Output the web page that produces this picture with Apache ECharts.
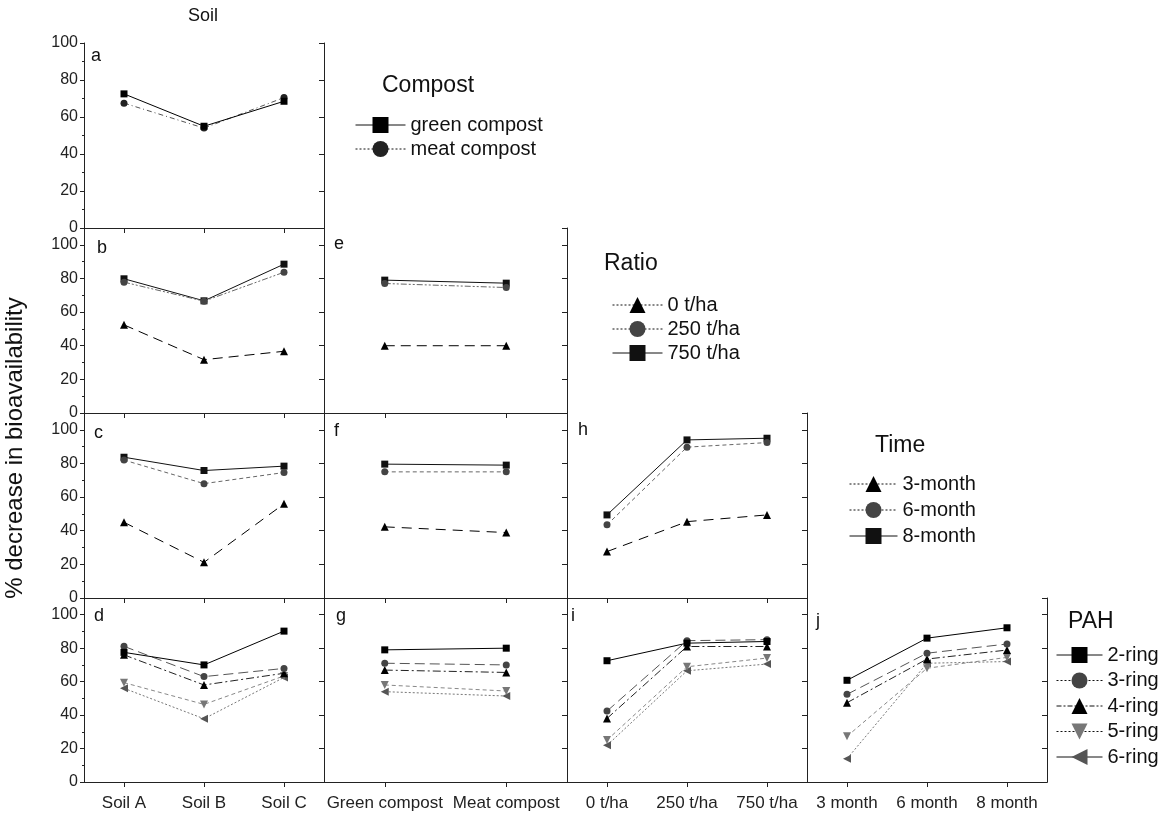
<!DOCTYPE html>
<html><head><meta charset="utf-8">
<script src="https://cdn.jsdelivr.net/npm/echarts@6/dist/echarts.min.js"></script>
<style>html,body{margin:0;padding:0;background:#fff}#c{width:1175px;height:816px}</style>
</head><body><div id="c"></div>
<script>
// ---------- categories ----------
const soils = ['Soil A', 'Soil B', 'Soil C'];
const composts = ['Green compost', 'Meat compost'];
const ratios = ['0 t/ha', '250 t/ha', '750 t/ha'];
const times = ['3 month', '6 month', '8 month'];

// ---------- legend names ----------
const compostNames = ['green compost', 'meat compost'];
const ratioNames = ['0 t/ha', '250 t/ha', '750 t/ha'];
const timeNames = ['3-month', '6-month', '8-month'];
const pahNames = ['2-ring', '3-ring', '4-ring', '5-ring', '6-ring'];

// ---------- values (% decrease in bioavailability) ----------
// a: soil x compost
const a_green = [72.5, 55.0, 68.5];
const a_meat = [67.5, 54.0, 70.5];
// b: soil x ratio
const b_0 = [52.4, 31.7, 36.7];
const b_250 = [77.8, 66.5, 83.7];
const b_750 = [79.8, 66.7, 88.5];
// e: compost x ratio
const e_0 = [40.0, 40.0];
const e_250 = [77.0, 74.6];
const e_750 = [79.0, 77.2];
// c: soil x time
const c_3 = [45.0, 21.2, 56.0];
const c_6 = [82.0, 68.0, 74.6];
const c_8 = [83.7, 75.8, 78.4];
// f: compost x time
const f_3 = [42.3, 38.9];
const f_6 = [75.0, 75.0];
const f_8 = [79.6, 79.0];
// h: ratio x time
const h_3 = [27.6, 45.4, 49.4];
const h_6 = [43.5, 89.7, 92.4];
const h_8 = [49.4, 94.0, 95.0];
// d: soil x PAH
const d_2 = [77.5, 70.0, 90.2];
const d_3 = [81.1, 63.0, 67.9];
const d_4 = [76.0, 58.0, 65.0];
const d_5 = [59.4, 46.4, 63.4];
const d_6 = [56.0, 37.8, 62.5];
// g: compost x PAH
const g_2 = [79.0, 80.0];
const g_3 = [71.0, 70.0];
const g_4 = [66.9, 65.5];
const g_5 = [58.0, 54.4];
const g_6 = [54.0, 51.4];
// i: ratio x PAH
const i_2 = [72.5, 83.0, 84.0];
const i_3 = [42.4, 84.5, 85.1];
const i_4 = [38.0, 81.0, 81.0];
const i_5 = [25.1, 68.9, 74.1];
const i_6 = [21.9, 66.5, 70.5];
// j: time x PAH
const j_2 = [60.8, 86.0, 92.2];
const j_3 = [52.4, 77.0, 82.5];
const j_4 = [47.4, 73.5, 78.9];
const j_5 = [27.3, 68.0, 74.5];
const j_6 = [13.9, 71.0, 72.0];

// y ticks
const yTickStep = 20;

// ---------- layout & styles ----------
const FONT = "'Liberation Sans', Arial, sans-serif";
const colLeft = [84, 324, 567, 807];
const colWidth = [240, 243, 240, 240];
const rowTop = [43, 228, 413, 598];
const rowHeight = [185, 185, 185, 184];
const rowMax = [100, 110, 110, 110];
const colCats = [soils, composts, ratios, times];

const SQ = 'rect', CI = 'circle', TR = 'triangle';
const DN = 'path://M0,0 L10,0 L5,9 Z';
const LT = 'path://M0,5 L9,0 L9,10 Z';

const rowStyles = [
  [ {sym: SQ, color: '#000', type: 'solid', size: 7, leg: 'solid'},
    {sym: CI, color: '#222', line: '#555', type: [5, 3, 1, 3], size: 7, leg: [2, 2]} ],
  [ {sym: TR, color: '#000', type: [10, 6], size: 8, leg: [2, 2]},
    {sym: CI, color: '#444', line: '#666', type: [6, 2, 2, 2, 2, 2], size: 7, leg: [2, 2]},
    {sym: SQ, color: '#111', type: 'solid', size: 7, leg: 'solid'} ],
  [ {sym: TR, color: '#000', type: [10, 7], size: 8, leg: [2, 2]},
    {sym: CI, color: '#444', line: '#666', type: [4, 3], size: 7, leg: [2, 2]},
    {sym: SQ, color: '#111', type: 'solid', size: 7, leg: 'solid'} ],
  [ {sym: SQ, color: '#000', type: 'solid', size: 7, leg: 'solid'},
    {sym: CI, color: '#444', line: '#555', type: [10, 5], size: 7, leg: [2, 2]},
    {sym: TR, color: '#000', line: '#222', type: [8, 3, 2, 3], size: 8, leg: [5, 2, 2, 2]},
    {sym: DN, color: '#777', line: '#888', type: [4, 3], size: 8, leg: [2, 2]},
    {sym: LT, color: '#555', line: '#777', type: [2, 2], size: 8, leg: 'solid'} ]
];
const rowNames = [compostNames, ratioNames, timeNames, pahNames];

const panels = [
  {letter: 'a', r: 0, c: 0, data: [a_green, a_meat], lx: 12, ly: 15},
  {letter: 'b', r: 1, c: 0, data: [b_0, b_250, b_750], lx: 18, ly: 22},
  {letter: 'e', r: 1, c: 1, data: [e_0, e_250, e_750], lx: 15, ly: 18},
  {letter: 'c', r: 2, c: 0, data: [c_3, c_6, c_8], lx: 15, ly: 22},
  {letter: 'f', r: 2, c: 1, data: [f_3, f_6, f_8], lx: 15, ly: 20},
  {letter: 'h', r: 2, c: 2, data: [h_3, h_6, h_8], lx: 16, ly: 19},
  {letter: 'd', r: 3, c: 0, data: [d_2, d_3, d_4, d_5, d_6], lx: 15, ly: 20},
  {letter: 'g', r: 3, c: 1, data: [g_2, g_3, g_4, g_5, g_6], lx: 17, ly: 20},
  {letter: 'i', r: 3, c: 2, data: [i_2, i_3, i_4, i_5, i_6], lx: 9, ly: 20},
  {letter: 'j', r: 3, c: 3, data: [j_2, j_3, j_4, j_5, j_6], lx: 14, ly: 25}
];

const AX = '#222';
const grid = [], xAxis = [], yAxis = [], series = [], graphic = [];
panels.forEach((p, k) => {
  grid.push({left: colLeft[p.c], top: rowTop[p.r], width: colWidth[p.c], height: rowHeight[p.r], containLabel: false});
  const isBottom = p.r === 3;
  xAxis.push({
    type: 'category', gridIndex: k, data: colCats[p.c], position: 'bottom',
    axisLine: {lineStyle: {color: AX, width: 1}},
    axisTick: {show: true, alignWithLabel: true, length: 5, lineStyle: {color: AX}},
    axisLabel: {show: isBottom, interval: 0, hideOverlap: false, fontFamily: FONT, fontSize: 17, color: '#222', margin: 13},
    splitLine: {show: false}
  });
  xAxis.push({
    type: 'category', gridIndex: k, data: colCats[p.c], position: 'top',
    axisLine: {lineStyle: {color: AX, width: 1}},
    axisTick: {show: true, inside: true, alignWithLabel: true, length: 5, lineStyle: {color: AX}},
    axisLabel: {show: false}, splitLine: {show: false}
  });
  const firstCol = p.c === 0;
  yAxis.push({
    type: 'value', gridIndex: k, min: 0, max: rowMax[p.r], interval: yTickStep, position: 'left',
    axisLine: {show: true, lineStyle: {color: AX, width: 1}},
    axisTick: {show: true, length: 4, lineStyle: {color: AX}},
    minorTick: {show: firstCol, splitNumber: 2, length: 2, lineStyle: {color: AX}},
    axisLabel: {show: firstCol, fontFamily: FONT, fontSize: 16, color: '#222', margin: 6,
      formatter: v => (v > 100 ? '' : String(v))},
    splitLine: {show: false}
  });
  yAxis.push({
    type: 'value', gridIndex: k, min: 0, max: rowMax[p.r], interval: yTickStep, position: 'right',
    axisLine: {show: true, lineStyle: {color: AX, width: 1}},
    axisTick: {show: true, inside: true, length: 5, lineStyle: {color: AX}},
    axisLabel: {show: false}, splitLine: {show: false}
  });
  p.data.forEach((vals, s) => {
    const st = rowStyles[p.r][s];
    series.push({
      type: 'line', name: rowNames[p.r][s], xAxisIndex: 2 * k, yAxisIndex: 2 * k,
      data: vals, symbol: st.sym, symbolSize: st.size, showSymbol: true,
      itemStyle: {color: st.color},
      lineStyle: {color: st.line || st.color, width: 1, type: st.type},
      emphasis: {disabled: true}, animation: false, z: 10 - s
    });
  });
  graphic.push({type: 'text', left: colLeft[p.c] + p.lx - 5, top: rowTop[p.r] + p.ly - 11,
    style: {text: p.letter, font: '18px ' + FONT, fill: '#111'}});
});

// legends
const legendCfg = [
  {row: 0, left: 355, top: 115, w: 50, gap: 4, title: 'Compost', tx: 382, ty: 86},
  {row: 1, left: 612, top: 295, w: 50, gap: 4, title: 'Ratio', tx: 604, ty: 264},
  {row: 2, left: 849, top: 474, w: 48, gap: 6, title: 'Time', tx: 875, ty: 446},
  {row: 3, left: 1056, top: 645, w: 46, gap: 5.5, title: 'PAH', tx: 1068, ty: 622}
];
const legend = legendCfg.map(L => ({
  data: rowNames[L.row].map((n, s) => ({name: n,
    lineStyle: {type: rowStyles[L.row][s].leg, color: '#111', width: 1}})),
  orient: 'vertical', left: L.left, top: L.top, padding: 0,
  itemWidth: L.w, itemHeight: 20, itemGap: L.gap, selectedMode: false,
  textStyle: {fontFamily: FONT, fontSize: 20, color: '#111', lineHeight: 20}
}));
legendCfg.forEach(L => graphic.push({type: 'text', left: L.tx, top: L.ty - 12,
  style: {text: L.title, font: '23px ' + FONT, fill: '#111'}}));

graphic.push({type: 'text', x: 203, y: 16, style: {text: 'Soil', font: '18px ' + FONT, fill: '#111', align: 'center', verticalAlign: 'middle'}});
graphic.push({type: 'text', x: 15, y: 448, rotation: Math.PI / 2,
  style: {text: '% decrease in bioavailability', font: '24px ' + FONT, fill: '#111', align: 'center', verticalAlign: 'middle'}});

const chart = echarts.init(document.getElementById('c'), null, {renderer: 'canvas'});
chart.setOption({backgroundColor: '#fff', animation: false, grid, xAxis, yAxis, series, legend, graphic});
</script></body></html>
